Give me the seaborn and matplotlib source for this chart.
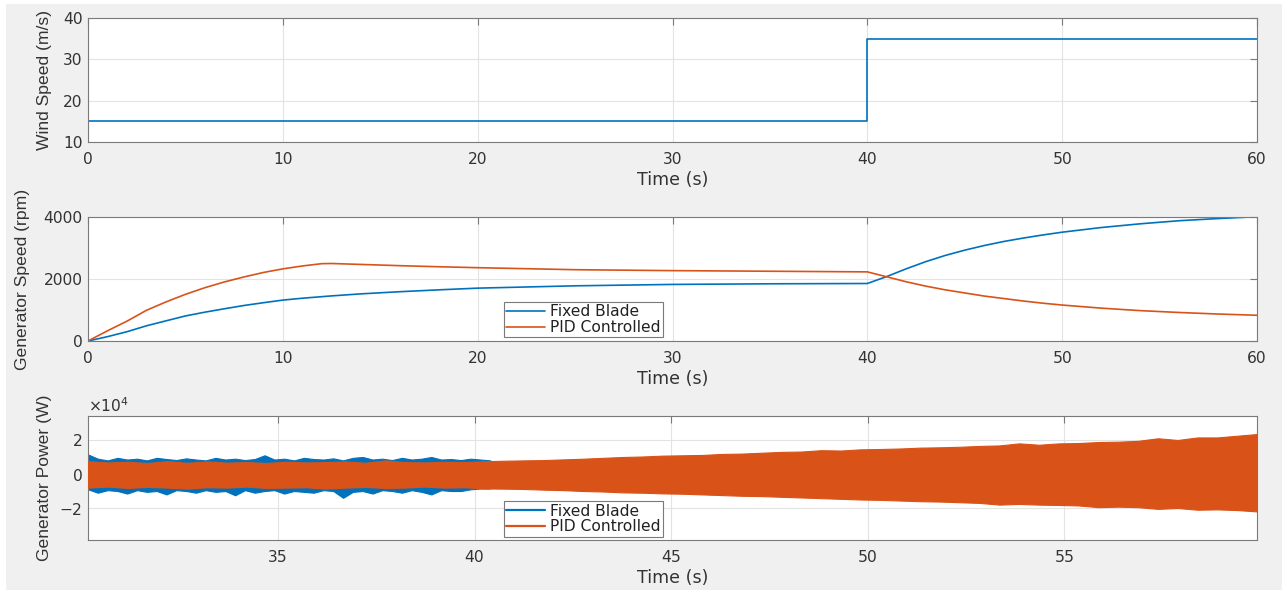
import numpy as np
import pandas as pd
import matplotlib
matplotlib.use("Agg")
import matplotlib.pyplot as plt
from matplotlib.patches import Rectangle
from matplotlib.ticker import ScalarFormatter
import seaborn as sns

# ---- wind input ----
wind_time = [0, 40, 40, 60]
wind_speed = [15, 15, 35, 35]

# ---- generator speed (rpm) ----
speed_time = [0, 1, 2, 3, 4, 5, 6, 7, 8, 9, 10, 11, 12, 12.5, 14, 16, 18, 20, 25, 30, 35, 40,
              41, 42, 43, 44, 45, 46, 47, 48, 49, 50, 52, 54, 56, 58, 60]
speed_fixed = [0, 140, 300, 490, 650, 808, 930, 1040, 1145, 1235, 1319, 1380, 1430, 1455, 1520,
               1590, 1650, 1705, 1780, 1825, 1845, 1855,
               2080, 2330, 2560, 2760, 2930, 3080, 3210, 3320, 3420, 3510, 3660, 3780, 3880, 3950, 4010]
speed_pid = [0, 330, 640, 990, 1260, 1505, 1720, 1905, 2065, 2210, 2327, 2420, 2495, 2500, 2470,
             2430, 2395, 2365, 2300, 2270, 2250, 2230,
             2070, 1910, 1770, 1650, 1550, 1450, 1370, 1290, 1220, 1160, 1060, 980, 920, 870, 830]

# ---- generator power envelope (x1e4 W) ----
# fixed blade: every 0.25 s from 30.17 s to 40.4 s
power_fixed_upper = [1.15, 0.90, 0.80, 0.95, 0.85, 0.90, 0.80, 0.95, 0.88, 0.82, 0.92, 0.85,
                     0.80, 0.95, 0.85, 0.90, 0.82, 0.88, 1.10, 0.85, 0.90, 0.80, 0.95, 0.88,
                     0.85, 0.92, 0.80, 0.95, 1.00, 0.85, 0.90, 0.82, 0.95, 0.85, 0.90, 1.00,
                     0.85, 0.88, 0.82, 0.90, 0.85, 0.80]
power_fixed_lower = [-0.90, -1.10, -0.95, -1.00, -1.15, -0.95, -1.05, -1.00, -1.20, -0.95, -1.00,
                     -1.10, -0.95, -1.05, -1.00, -1.25, -0.95, -1.10, -1.00, -0.95, -1.15, -1.00,
                     -1.05, -1.10, -0.95, -1.00, -1.40, -1.05, -1.00, -1.15, -0.95, -1.00, -1.10,
                     -0.95, -1.05, -1.20, -0.95, -1.00, -1.00, -0.90, -0.85, -0.85]
# PID controlled: every ~0.5 s from 30.17 s to 59.9 s
power_pid_upper = [0.75, 0.68, 0.72, 0.65, 0.76, 0.66, 0.74, 0.67, 0.70, 0.65,
                   0.72, 0.68, 0.70, 0.74, 0.66, 0.80, 0.70, 0.68, 0.72, 0.70,
                   0.75, 0.78, 0.80, 0.82, 0.86, 0.90, 0.95, 1.00, 1.03, 1.08,
                   1.10, 1.12, 1.18, 1.20, 1.25, 1.30, 1.32, 1.40, 1.38, 1.45,
                   1.47, 1.50, 1.55, 1.57, 1.60, 1.65, 1.68, 1.80, 1.72, 1.80,
                   1.82, 1.88, 1.90, 1.95, 2.10, 2.00, 2.15, 2.15, 2.25, 2.35]
power_pid_lower = [-0.80, -0.74, -0.82, -0.76, -0.80, -0.86, -0.78, -0.80, -0.74, -0.82,
                   -0.80, -0.78, -0.86, -0.80, -0.76, -0.82, -0.80, -0.74, -0.80, -0.78,
                   -0.85, -0.86, -0.88, -0.92, -0.95, -1.00, -1.03, -1.08, -1.10, -1.14,
                   -1.16, -1.20, -1.24, -1.28, -1.30, -1.34, -1.38, -1.42, -1.46, -1.50,
                   -1.52, -1.56, -1.60, -1.62, -1.66, -1.70, -1.80, -1.76, -1.80, -1.82,
                   -1.85, -1.95, -1.92, -1.95, -2.05, -2.00, -2.10, -2.08, -2.12, -2.20]
power_fixed_time = np.linspace(30.17, 40.4, len(power_fixed_upper))
power_pid_time = np.linspace(30.17, 59.9, len(power_pid_upper))

BLUE = "#0072BD"
ORANGE = "#D95319"
GRID = "#e3e3e3"
SPINE = "#7a7a7a"
TXT = "#333333"
TICK_FS = 11.2
LABEL_FS = 12.6
YLABEL_FONT = ["Liberation Sans", "DejaVu Sans"]

sns.set_theme(style="white")
plt.rcParams["font.family"] = ["DejaVu Sans"]
plt.rcParams["axes.unicode_minus"] = False

fig = plt.figure(figsize=(12.87, 5.94), dpi=100)
fig.patch.set_facecolor("white")
fig.add_artist(Rectangle((6 / 1287, 4 / 594), 1276 / 1287, 586 / 594,
                         transform=fig.transFigure, facecolor="#f0f0f0",
                         edgecolor="none", zorder=-10))

L, W, H = 88 / 1287, 1169 / 1287, 124 / 594
ax1 = fig.add_axes([L, 1 - 142 / 594, W, H])
ax2 = fig.add_axes([L, 1 - 341 / 594, W, H])
ax3 = fig.add_axes([L, 1 - 540 / 594, W, H])


def style(ax, ylabel, label_x):
    ax.set_facecolor("white")
    ax.grid(True, color=GRID, linewidth=0.8)
    ax.set_axisbelow(True)
    for s in ax.spines.values():
        s.set_visible(True)
        s.set_color(SPINE)
        s.set_linewidth(0.8)
    ax.tick_params(direction="in", length=5, width=0.8, color=SPINE,
                   top=True, right=True, labelsize=TICK_FS, labelcolor=TXT)
    ax.tick_params(axis="x", pad=7)
    ax.tick_params(axis="y", pad=4)
    ax.set_xlabel("Time (s)", fontsize=LABEL_FS, color=TXT, labelpad=3)
    ax.set_ylabel(ylabel, fontsize=LABEL_FS, color=TXT, family=YLABEL_FONT)
    # right edge of the rotated label, in pixels from the figure's left edge
    ax.yaxis.set_label_coords((label_x - 88) / 1169, 0.5)


def add_legend(ax, y0):
    leg = ax.legend(loc="lower left", bbox_to_anchor=(0.356, y0), fontsize=11.2,
                    frameon=True, fancybox=False, framealpha=1, edgecolor=SPINE,
                    handlelength=2.5, handletextpad=0.3, borderpad=0.15,
                    labelspacing=0.05, borderaxespad=0)
    leg.get_frame().set_linewidth(0.8)
    for txt in leg.get_texts():
        txt.set_color("#222222")


# Wind speed
sns.lineplot(x=wind_time, y=wind_speed, ax=ax1, color=BLUE, linewidth=1.2,
             estimator=None, sort=False)
ax1.set_xlim(0, 60)
ax1.set_ylim(10, 40)
ax1.set_yticks([10, 20, 30, 40])
ax1.set_xticks(range(0, 61, 10))
style(ax1, "Wind Speed (m/s)", 52)

# Generator speed
speed_df = pd.DataFrame({
    "t": speed_time * 2,
    "rpm": speed_fixed + speed_pid,
    "case": ["Fixed Blade"] * len(speed_time) + ["PID Controlled"] * len(speed_time),
})
sns.lineplot(data=speed_df, x="t", y="rpm", hue="case", ax=ax2,
             palette=[BLUE, ORANGE], linewidth=1.2, estimator=None)
ax2.set_xlim(0, 60)
ax2.set_ylim(0, 4000)
ax2.set_yticks([0, 2000, 4000])
ax2.set_xticks(range(0, 61, 10))
style(ax2, "Generator Speed (rpm)", 30)
add_legend(ax2, 0.03)

# Generator power
fixed_up = np.array(power_fixed_upper) * 1e4
fixed_lo = np.array(power_fixed_lower) * 1e4
pid_up = np.array(power_pid_upper) * 1e4
pid_lo = np.array(power_pid_lower) * 1e4
ax3.fill_between(power_fixed_time, fixed_lo, fixed_up, color=BLUE, linewidth=0.8,
                 edgecolor=BLUE, zorder=2)
ax3.fill_between(power_pid_time, pid_lo, pid_up, color=ORANGE, linewidth=0.8,
                 edgecolor=ORANGE, zorder=3)
sns.lineplot(x=[np.nan, np.nan], y=[np.nan, np.nan], ax=ax3, color=BLUE,
             linewidth=1.6, label="Fixed Blade")
sns.lineplot(x=[np.nan, np.nan], y=[np.nan, np.nan], ax=ax3, color=ORANGE,
             linewidth=1.6, label="PID Controlled")
ax3.set_xlim(30.17, 59.9)
ax3.set_ylim(-3.88e4, 3.41e4)
ax3.set_yticks([-2e4, 0, 2e4])
ax3.set_xticks([35, 40, 45, 50, 55])
fmt = ScalarFormatter(useMathText=True)
fmt.set_powerlimits((0, 0))
ax3.yaxis.set_major_formatter(fmt)
style(ax3, "Generator Power (W)", 52)
ax3.yaxis.get_offset_text().set_fontsize(TICK_FS)
ax3.yaxis.get_offset_text().set_color(TXT)
add_legend(ax3, 0.027)

fig.savefig("out.png", dpi=100, facecolor=fig.get_facecolor())
